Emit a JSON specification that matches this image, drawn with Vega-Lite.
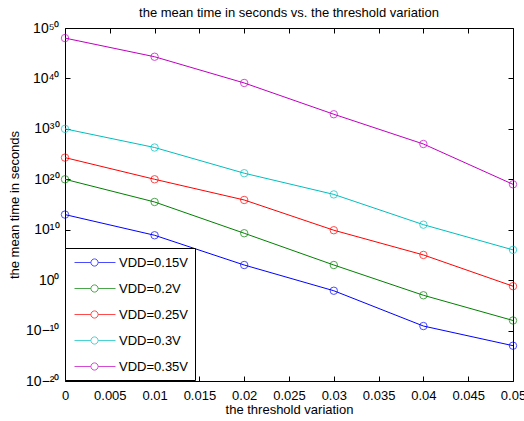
{
  "$schema": "https://vega.github.io/schema/vega-lite/v6.json",
  "width": 448,
  "height": 353,
  "autosize": {"type": "none"},
  "padding": {"left": 65, "top": 28, "right": 11, "bottom": 40},
  "background": "white",
  "title": {"text": "the mean time in seconds vs. the threshold variation", "fontSize": 13, "fontWeight": "normal", "font": "Liberation Sans", "color": "black", "offset": 1, "anchor": "middle"},
  "config": {
    "view": {"stroke": "black", "strokeWidth": 1},
    "axis": {"labelFont": "Liberation Sans", "titleFont": "Liberation Sans", "labelFontSize": 13, "titleFontSize": 13, "titleFontWeight": "normal", "labelColor": "black", "titleColor": "black", "domainColor": "black", "tickColor": "black", "grid": false}
  },
  "data": {"values": [
    {"x": 0, "t": 1e13, "s": "VDD=0.15V"},
    {"x": 0.01, "t": 7.9e8, "s": "VDD=0.15V"},
    {"x": 0.02, "t": 1e3, "s": "VDD=0.15V"},
    {"x": 0.03, "t": 7.9e-3, "s": "VDD=0.15V"},
    {"x": 0.04, "t": 7.9e-10, "s": "VDD=0.15V"},
    {"x": 0.05, "t": 1e-13, "s": "VDD=0.15V"},
    {"x": 0, "t": 1e20, "s": "VDD=0.2V"},
    {"x": 0.01, "t": 3.16e15, "s": "VDD=0.2V"},
    {"x": 0.02, "t": 2e9, "s": "VDD=0.2V"},
    {"x": 0.03, "t": 1e3, "s": "VDD=0.2V"},
    {"x": 0.04, "t": 1e-3, "s": "VDD=0.2V"},
    {"x": 0.05, "t": 1e-8, "s": "VDD=0.2V"},
    {"x": 0, "t": 2e24, "s": "VDD=0.25V"},
    {"x": 0.01, "t": 1e20, "s": "VDD=0.25V"},
    {"x": 0.02, "t": 7.9e15, "s": "VDD=0.25V"},
    {"x": 0.03, "t": 7.9e9, "s": "VDD=0.25V"},
    {"x": 0.04, "t": 1e5, "s": "VDD=0.25V"},
    {"x": 0.05, "t": 0.063, "s": "VDD=0.25V"},
    {"x": 0, "t": 1e30, "s": "VDD=0.3V"},
    {"x": 0.01, "t": 2e26, "s": "VDD=0.3V"},
    {"x": 0.02, "t": 1.6e21, "s": "VDD=0.3V"},
    {"x": 0.03, "t": 1e17, "s": "VDD=0.3V"},
    {"x": 0.04, "t": 1e11, "s": "VDD=0.3V"},
    {"x": 0.05, "t": 1e6, "s": "VDD=0.3V"},
    {"x": 0, "t": 1e48, "s": "VDD=0.35V"},
    {"x": 0.01, "t": 2e44, "s": "VDD=0.35V"},
    {"x": 0.02, "t": 1.26e39, "s": "VDD=0.35V"},
    {"x": 0.03, "t": 7.9e32, "s": "VDD=0.35V"},
    {"x": 0.04, "t": 1e27, "s": "VDD=0.35V"},
    {"x": 0.05, "t": 1e19, "s": "VDD=0.35V"}
  ]},
  "resolve": {"axis": {"x": "independent", "y": "independent"}},
  "layer": [
    {
      "mark": {"type": "line", "strokeWidth": 1},
      "encoding": {
        "x": {"field": "x", "type": "quantitative", "scale": {"domain": [0, 0.05], "nice": false, "zero": false},
          "axis": {"orient": "bottom", "values": [0, 0.005, 0.01, 0.015, 0.02, 0.025, 0.03, 0.035, 0.04, 0.045, 0.05], "format": "~g", "tickSize": -5, "labelPadding": 13, "title": "the threshold variation", "titlePadding": 1, "labelFlush": false, "domain": false}},
        "y": {"field": "t", "type": "quantitative", "scale": {"type": "log", "domain": [1e-20, 1e50], "nice": false},
          "axis": {"orient": "left", "values": [1e-20, 1e-10, 1, 1e10, 1e20, 1e30, 1e40, 1e50], "labelExpr": "'10' + replace(replace(replace(replace(replace(replace(replace(replace(format(round(log(datum.value)/LN10), 'd'), '-', '⁻'), '0', '⁰'), '1', '¹'), '2', '²'), '3', '³'), '4', '⁴'), '5', '⁵'), '-', '⁻')", "tickSize": -5, "labelPadding": 11, "labelFontSize": 14, "title": "the mean time in seconds", "titlePadding": 4, "labelFlush": false, "domain": false}},
        "color": {"field": "s", "type": "nominal", "sort": ["VDD=0.15V", "VDD=0.2V", "VDD=0.25V", "VDD=0.3V", "VDD=0.35V"],
          "scale": {"domain": ["VDD=0.15V", "VDD=0.2V", "VDD=0.25V", "VDD=0.3V", "VDD=0.35V"], "range": ["#0000ff", "#008000", "#ff0000", "#00bfbf", "#bf00bf"]},
          "legend": {"title": null, "orient": "none", "legendX": 0, "legendY": 220, "strokeColor": "black", "fillColor": "white", "padding": 6, "symbolType": "M-0.625,0H1.425M2.325,0H4.5M2.325,0A0.45,0.45 0 1,1 1.425,0A0.45,0.45 0 1,1 2.325,0", "symbolSize": 256, "symbolStrokeWidth": 1, "symbolFillColor": "transparent", "labelFont": "Liberation Sans", "labelFontSize": 13, "labelColor": "black", "labelOffset": 31, "rowPadding": 10}}
      }
    },
    {
      "mark": {"type": "point", "filled": false, "size": 55, "strokeWidth": 1},
      "encoding": {
        "x": {"field": "x", "type": "quantitative", "axis": null},
        "y": {"field": "t", "type": "quantitative", "axis": null},
        "color": {"field": "s", "type": "nominal"}
      }
    },
    {
      "mark": {"type": "point", "opacity": 0},
      "encoding": {
        "x": {"field": "x", "type": "quantitative", "axis": {"orient": "top", "values": [0, 0.005, 0.01, 0.015, 0.02, 0.025, 0.03, 0.035, 0.04, 0.045, 0.05], "labels": false, "tickSize": -5, "title": null, "domain": false}},
        "y": {"field": "t", "type": "quantitative", "axis": {"orient": "right", "values": [1e-20, 1e-10, 1, 1e10, 1e20, 1e30, 1e40, 1e50], "labels": false, "tickSize": -5, "title": null, "domain": false}}
      }
    }
  ]
}
